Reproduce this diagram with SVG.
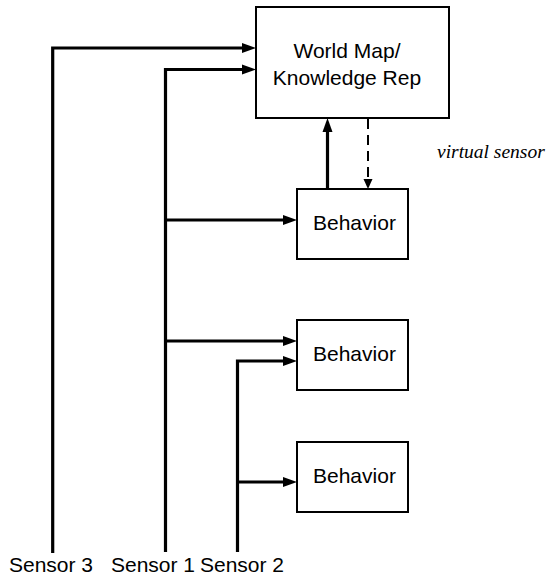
<svg xmlns="http://www.w3.org/2000/svg" width="547" height="577" viewBox="0 0 547 577">
  <style>
    .box { fill: #ffffff; stroke: #000000; stroke-width: 2; }
    .label { font-family: "Liberation Sans", Arial, Helvetica, sans-serif; font-size: 21px; fill: #000000; }
    .sensor { font-family: "Liberation Sans", Arial, Helvetica, sans-serif; font-size: 21px; fill: #000000; }
    .note { font-family: "Liberation Serif", "Times New Roman", serif; font-style: italic; font-size: 19.5px; fill: #000000; }
    .wire { fill: none; stroke: #000000; stroke-width: 3.2; stroke-linejoin: miter; marker-end: url(#arrow); }
    .dashed { fill: none; stroke: #000000; stroke-width: 2; stroke-dasharray: 10 6; marker-end: url(#arrow-small); }
  </style>
  <defs>
    <marker id="arrow" markerUnits="userSpaceOnUse" markerWidth="14" markerHeight="10" refX="6" refY="5" orient="auto" overflow="visible">
      <path d="M0,0 L14,5 L0,10 z" fill="#000000"/>
    </marker>
    <marker id="arrow-small" markerUnits="userSpaceOnUse" markerWidth="10" markerHeight="9" refX="3" refY="4.5" orient="auto" overflow="visible">
      <path d="M0,0 L10,4.5 L0,9 z" fill="#000000"/>
    </marker>
  </defs>

  <!-- connectors -->
  <g id="connectors">
    <path class="wire" d="M52.7,553 V48 H248"/>
    <path class="wire" d="M165.5,552 V69.5 H248"/>
    <path class="wire" d="M165.5,220 H289"/>
    <path class="wire" d="M165.5,341 H289"/>
    <path class="wire" d="M237.5,552 V361 H289"/>
    <path class="wire" d="M237.5,482 H289"/>
    <path class="wire" d="M327.5,189 V126"/>
    <path class="dashed" d="M368,119 V182"/>
    <text class="note" x="437" y="158">virtual sensor</text>
  </g>

  <!-- nodes -->
  <g id="world-map">
    <rect class="box" x="256" y="7" width="193" height="111"/>
    <text class="label" x="347" y="58" text-anchor="middle">World Map/</text>
    <text class="label" x="347" y="85" text-anchor="middle">Knowledge Rep</text>
  </g>
  <g id="behavior-1">
    <rect class="box" x="297" y="189" width="111" height="70"/>
    <text class="label" x="313" y="230">Behavior</text>
  </g>
  <g id="behavior-2">
    <rect class="box" x="297" y="320" width="111" height="70"/>
    <text class="label" x="313" y="361">Behavior</text>
  </g>
  <g id="behavior-3">
    <rect class="box" x="297" y="442" width="111" height="70"/>
    <text class="label" x="313" y="483">Behavior</text>
  </g>

  <!-- sensor labels -->
  <g id="sensor-3"><text class="sensor" x="9" y="572">Sensor 3</text></g>
  <g id="sensor-1"><text class="sensor" x="111" y="572">Sensor 1</text></g>
  <g id="sensor-2"><text class="sensor" x="200" y="572">Sensor 2</text></g>
</svg>
